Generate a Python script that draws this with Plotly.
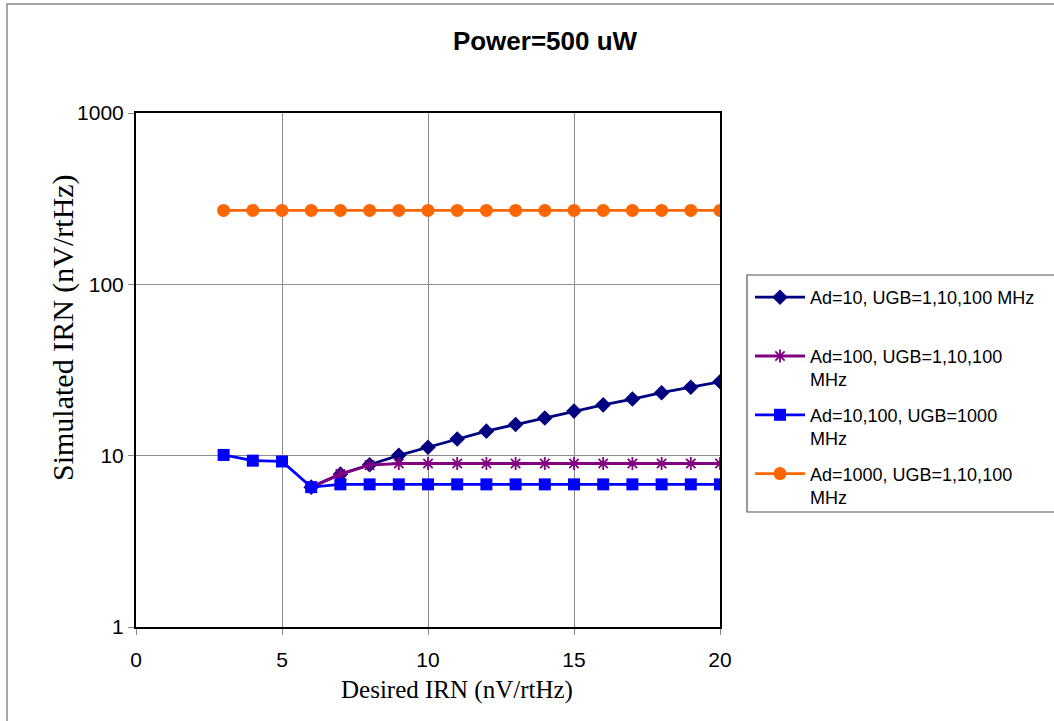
import plotly.graph_objects as go

# Desired input-referred noise (nV/rtHz)
desired_irn = [3, 4, 5, 6, 7, 8, 9, 10, 11, 12, 13, 14, 15, 16, 17, 18, 19, 20]

# Simulated IRN (nV/rtHz) per amplifier configuration
# (below 6 nV/rtHz the first two configurations coincide with the UGB=1000 curve)
irn_ad10 = [None, None, None, 6.55, 7.8, 8.85, 10.05, 11.2, 12.5, 13.9, 15.2,
            16.6, 18.2, 19.8, 21.4, 23.3, 25.1, 27.0]
irn_ad100 = [None, None, None, 6.55, 7.8, 8.8, 9.0, 9.0, 9.0, 9.0, 9.0,
             9.0, 9.0, 9.0, 9.0, 9.0, 9.0, 9.0]
irn_ugb1000 = [10.1, 9.35, 9.25, 6.55, 6.8, 6.8, 6.8, 6.8, 6.8, 6.8, 6.8,
               6.8, 6.8, 6.8, 6.8, 6.8, 6.8, 6.8]
irn_ad1000 = [270, 270, 270, 270, 270, 270, 270, 270, 270, 270, 270,
              270, 270, 270, 270, 270, 270, 270]

series_names = [
    "Ad=10, UGB=1,10,100 MHz<br> ",
    "Ad=100, UGB=1,10,100<br>MHz",
    "Ad=10,100, UGB=1000<br>MHz",
    "Ad=1000, UGB=1,10,100<br>MHz",
]

x_ticks = [0, 5, 10, 15, 20]
y_ticks = [1, 10, 100, 1000]

W, H = 1054, 721
L, R, T, B = 136, 720, 113, 627  # plot area in pixels


def px_x(p):
    return (p - L) / (R - L)


def px_y(p):
    return (B - p) / (B - T)


fig = go.Figure()

styles = [
    (irn_ad10, "#000080", dict(symbol="diamond", size=12)),
    (irn_ad100, "#800080", dict(symbol="asterisk-open", size=11,
                                line=dict(width=1.8, color="#800080"))),
    (irn_ugb1000, "#0000FF", dict(symbol="square", size=12)),
    (irn_ad1000, "#FF6600", dict(symbol="circle", size=13)),
]

for i, (vals, color, marker) in enumerate(styles):
    fig.add_trace(go.Scatter(
        x=desired_irn, y=vals, name=series_names[i],
        mode="lines+markers",
        line=dict(color=color, width=2.8),
        marker=dict(color=color, **marker),
        legendgroup=f"g{i}",
        connectgaps=False,
    ))

tick_font = dict(family="Liberation Sans, Arial", size=21, color="black")
serif = "Liberation Serif, Times New Roman"

fig.update_xaxes(
    range=[0, 20], tickvals=x_ticks, ticktext=[str(v) for v in x_ticks],
    showgrid=True, gridcolor="#8c8c8c", gridwidth=1,
    showline=True, linecolor="black", linewidth=2, mirror=True,
    ticks="outside", ticklen=6, tickcolor="#8c8c8c",
    tickfont=tick_font, zeroline=False, ticklabelstandoff=7,
)
fig.update_yaxes(
    type="log", range=[0, 3], tickvals=y_ticks,
    ticktext=[str(v) for v in y_ticks],
    showgrid=True, gridcolor="#8c8c8c", gridwidth=1,
    showline=True, linecolor="black", linewidth=2, mirror=True,
    ticks="outside", ticklen=6, tickcolor="#8c8c8c",
    tickfont=tick_font, zeroline=False,
)

fig.update_layout(
    width=W, height=H,
    margin=dict(l=L, r=W - R, t=T, b=H - B),
    paper_bgcolor="white", plot_bgcolor="white",
    title=dict(text="<b>Power=500 uW</b>", x=px_x(545), xref="paper",
               xanchor="center", y=1 - 41 / H, yref="container",
               yanchor="middle",
               font=dict(family="Liberation Sans, Arial", size=26, color="black")),
    legend=dict(x=px_x(750), y=px_y(279), xanchor="left", yanchor="top",
                font=dict(family="Liberation Sans, Arial", size=18, color="black"),
                bgcolor="rgba(0,0,0,0)", borderwidth=0,
                tracegroupgap=9, valign="top", itemwidth=50),
    showlegend=True,
    annotations=[
        dict(text="Desired IRN (nV/rtHz)", xref="paper", yref="paper",
             x=px_x(457), y=px_y(690), xanchor="center", yanchor="middle",
             showarrow=False, font=dict(family=serif, size=25, color="black")),
        dict(text="Simulated IRN (nV/rtHz)", xref="paper", yref="paper",
             x=px_x(63), y=px_y(328), xanchor="center", yanchor="middle",
             textangle=-90, showarrow=False,
             font=dict(family=serif, size=30, color="black")),
    ],
    shapes=[
        # outer chart frame
        dict(type="rect", xref="paper", yref="paper",
             x0=px_x(7), x1=px_x(1200), y0=px_y(900), y1=px_y(4),
             line=dict(color="#8a8a8a", width=1.5), layer="below"),
        # legend frame
        dict(type="rect", xref="paper", yref="paper",
             x0=px_x(747), x1=px_x(1200), y0=px_y(512), y1=px_y(275),
             line=dict(color="#555555", width=1.2), layer="below"),
    ],
)

fig.write_html("out.html")
